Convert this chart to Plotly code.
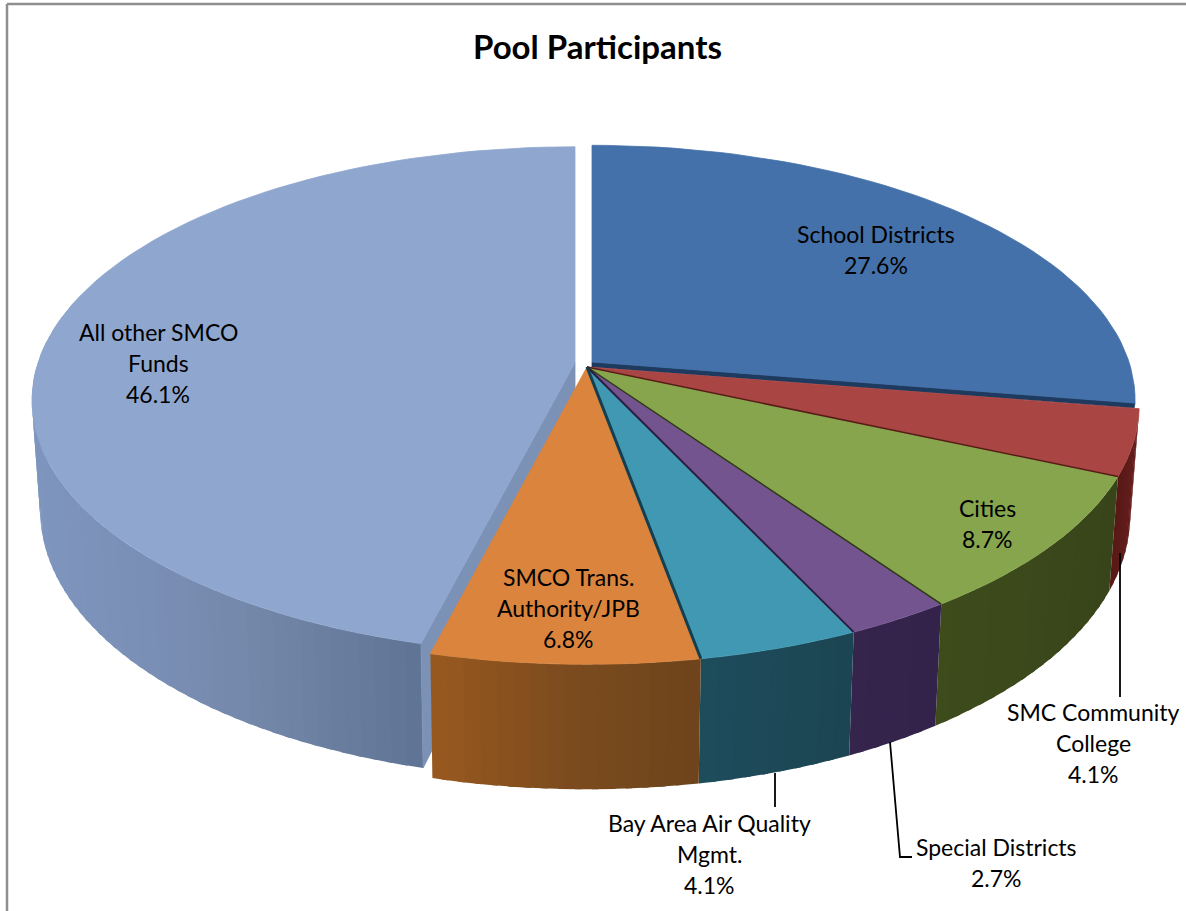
import math
import plotly.graph_objects as go

# ---- data ----
categories = ["School Districts", "SMC Community College", "Cities", "Special Districts",
              "Bay Area Air Quality Mgmt.", "SMCO Trans. Authority/JPB", "All other SMCO Funds"]
values = [27.6, 4.1, 8.7, 2.7, 4.1, 6.8, 46.1]
label_lines = [["School Districts"], ["SMC Community", "College"], ["Cities"], ["Special Districts"],
               ["Bay Area Air Quality", "Mgmt."], ["SMCO Trans.", "Authority/JPB"], ["All other SMCO", "Funds"]]

# ---- styles and layout ----
top_colors = ["#4471A9", "#A94542", "#87A54D", "#74548F", "#4198B2", "#DB843D", "#8FA7CF"]
wall_stops = [
    [(0, "#2B4A70"), (1, "#2B4A70")],
    [(1107, "#551816"), (1135, "#6A1F1E")],
    [(933, "#3E4C1C"), (1107, "#38451A")],
    [(847, "#35254D"), (933, "#33234A")],
    [(697, "#1D4C5C"), (847, "#1C4553")],
    [(434, "#98591F"), (560, "#7C4B1E"), (695, "#6E441C")],
    [(40, "#7E95BE"), (150, "#7A8FB5"), (250, "#7488AA"), (423, "#5F7394")],
]
edge_colors = ["#1E3A5F", "#5A1A18", "#2E3A14", "#2B1E42", "#143F50", "#143F50", "#7E92B6"]
#                cx    cy    bx   ay
exploded = {0: (592, 362, 537, 249), 6: (575, 362.6, 537, 248)}
group = (587, 367, 546, 253)
K = 0.149
label_x = [876, 1093, 987, 996, 709, 568, 158]
label_y = [234, 712, 508, 847, 823, 577, 332]
LINE_H = 31
FONT = "Lato"
LABEL_SIZE = 23


def geom(i):
    return exploded.get(i, group)


def top_pt(i, deg):
    cx, cy, b, a = geom(i)
    t = math.radians(deg)
    u, v = math.sin(t), math.cos(t)
    d = 1 + K * v
    return cx + b * u / d, cy - a * v / d


def bot_pt(i, deg):
    x, y = top_pt(i, deg)
    v = math.cos(math.radians(deg))
    return x - (x - 560) * 0.0155, y + 107 - 18 * v


def hex2rgb(h):
    return tuple(int(h[j:j + 2], 16) for j in (1, 3, 5))


def shade(stops, x):
    if x <= stops[0][0]:
        return stops[0][1]
    for (x0, c0), (x1, c1) in zip(stops, stops[1:]):
        if x <= x1:
            f = (x - x0) / (x1 - x0)
            a, b = hex2rgb(c0), hex2rgb(c1)
            return "rgb(%d,%d,%d)" % tuple(round(p + (q - p) * f) for p, q in zip(a, b))
    return stops[-1][1]


def poly(xs, ys, color, name=None, stroke=0.8):
    return go.Scatter(x=xs, y=ys, mode="lines", fill="toself", fillcolor=color,
                      line=dict(color=color, width=stroke), hoverinfo="skip", showlegend=False, name=name)


def arc(i, d0, d1, fn, step=2.0):
    n = max(2, int(abs(d1 - d0) / step) + 1)
    return [fn(i, d0 + (d1 - d0) * j / n) for j in range(n + 1)]


total = sum(values)
bounds = [0.0]
for val in values:
    bounds.append(bounds[-1] + val / total * 360)

fig = go.Figure()


def add_wall(i):
    d0, d1 = bounds[i], bounds[i + 1]
    if i == 6:
        d1 = min(d1, 285)
    n = max(2, int((d1 - d0) / 1.5))
    # painted from the far end back, each band reaching under the next one
    order = range(n) if i in (1, 2, 3, 4, 5) else range(n)
    for j in order:
        a0 = d0 + (d1 - d0) * j / n
        a1 = d0 + (d1 - d0) * (j + 1) / n
        a_x = min(d1, a1 + 0.6)
        t0, t1 = top_pt(i, a0), top_pt(i, a_x)
        b0, b1 = bot_pt(i, a0), bot_pt(i, a_x)
        col = shade(wall_stops[i], (b0[0] + b1[0]) / 2)
        fig.add_trace(poly([t0[0], t1[0], b1[0], b0[0], t0[0]], [t0[1], t1[1], b1[1], b0[1], t0[1]], col, stroke=0))


def add_top(i):
    cx, cy = geom(i)[:2]
    pts = arc(i, bounds[i], bounds[i + 1], top_pt)
    xs = [cx] + [p[0] for p in pts] + [cx]
    ys = [cy] + [p[1] for p in pts] + [cy]
    fig.add_trace(poly(xs, ys, top_colors[i], categories[i]))


# all other funds: outer wall, cut face, top
add_wall(6)
cx6, cy6 = geom(6)[:2]
c_t, c_b = top_pt(6, bounds[6]), bot_pt(6, bounds[6])
fig.add_trace(poly([cx6, c_t[0], c_b[0], cx6, cx6], [cy6, c_t[1], c_b[1], cy6 + 105, cy6], "#7C91B6"))
add_top(6)

# school districts: thin dark cut face below its edge, then top
cx0, cy0 = geom(0)[:2]
c0 = top_pt(0, bounds[1])
fig.add_trace(poly([cx0, c0[0], c0[0] - 1, cx0, cx0], [cy0, c0[1], c0[1] + 5, cy0 + 5, cy0], "#1E3A5F"))
add_top(0)

# the five slices that stay together
for i in [1, 2, 3, 4, 5]:
    add_wall(i)
for i in [1, 2, 3, 4, 5]:
    add_top(i)
for i, w in zip([1, 2, 3, 4], [1.5, 1.5, 2, 3]):
    e = top_pt(i, bounds[i + 1])
    gx, gy = geom(i)[:2]
    fig.add_trace(go.Scatter(x=[gx, e[0]], y=[gy, e[1]], mode="lines",
                             line=dict(color=edge_colors[i], width=w), hoverinfo="skip", showlegend=False))

# leader lines
for xs, ys in [([1120, 1120], [553, 697]), ([775, 775], [773, 807]), ([890, 900, 912], [742, 857, 857])]:
    fig.add_trace(go.Scatter(x=xs, y=ys, mode="lines", line=dict(color="#000000", width=1.8),
                             hoverinfo="skip", showlegend=False))

# labels
ann = []
for i in range(len(categories)):
    lines = label_lines[i] + ["%.1f%%" % values[i]]
    for n, line in enumerate(lines):
        ann.append(dict(x=label_x[i], y=label_y[i] + n * LINE_H, text=line, showarrow=False,
                        xref="x", yref="y", xanchor="center", yanchor="middle",
                        font=dict(family=FONT, size=LABEL_SIZE, color="#000000")))
ann.append(dict(x=597, y=46, text="<b>Pool Participants</b>", showarrow=False, xref="x", yref="y",
                xanchor="center", yanchor="middle", font=dict(family=FONT, size=33, color="#000000")))

frame = dict(type="line", line=dict(color="#8E8E8E", width=2.5), xref="x", yref="y", layer="above")
fig.update_layout(
    width=1186, height=911, autosize=False,
    margin=dict(l=0, r=0, t=0, b=0),
    paper_bgcolor="#FFFFFF", plot_bgcolor="#FFFFFF",
    showlegend=False,
    xaxis=dict(range=[0, 1186], visible=False, fixedrange=True),
    yaxis=dict(range=[911, 0], visible=False, fixedrange=True),
    annotations=ann,
    shapes=[dict(frame, x0=7, y0=4, x1=7, y1=911), dict(frame, x0=7, y0=4, x1=1186, y1=4)],
)
fig.write_html("out.html", config={"displayModeBar": False},
               post_script="document.body.style.margin='0';document.body.style.overflow='hidden';")
